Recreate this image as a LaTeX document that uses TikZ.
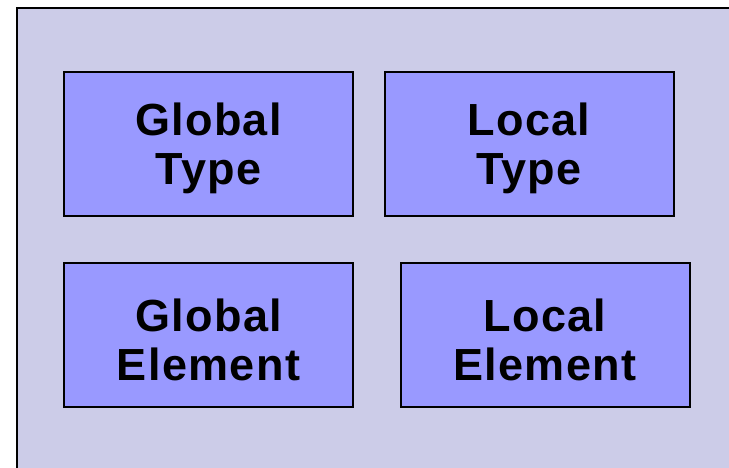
\documentclass[tikz,border=0pt]{standalone}
\usepackage{fontspec}
\setmainfont{Liberation Sans}[LetterSpace=3]
\usetikzlibrary{positioning}
\definecolor{panelfill}{HTML}{CCCCE8}
\definecolor{boxfill}{HTML}{9999FF}
\tikzset{
    kindbox/.style={draw=black, line width=2pt, fill=boxfill, minimum width=289pt,
        minimum height=144pt, align=center, inner sep=0pt, text height=90pt,
        font=\fontsize{45}{49}\selectfont\bfseries}
}
\begin{document}
\begin{tikzpicture}[x=1pt, y=1pt]
    % 1. Vùng hiển thị
    \useasboundingbox (0,0) rectangle (729,468);
    \clip (0,0) rectangle (729,468);

    % 2. Khung nền
    \draw[line width=2pt, fill=panelfill] (17,-10) rectangle (745,460);

    % 3. Các hộp
    \node[kindbox] (globaltype) at (208.5,324) {Global\\Type};
    \node[kindbox] (localtype) at (529,324) {Local\\Type};
    \node[kindbox] (globalelem) at (208.5,132.5) {Global\\Element};
    \node[kindbox] (localelem) at (545,132.5) {Local\\Element};
\end{tikzpicture}
\end{document}
